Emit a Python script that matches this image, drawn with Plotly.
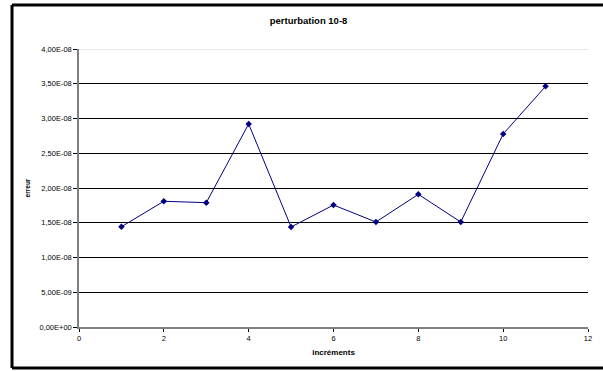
import plotly.graph_objects as go

# increments and error values
increments = [1, 2, 3, 4, 5, 6, 7, 8, 9, 10, 11]
erreur = [1.443e-8, 1.809e-8, 1.789e-8, 2.921e-8, 1.439e-8, 1.755e-8,
          1.511e-8, 1.909e-8, 1.511e-8, 2.777e-8, 3.463e-8]

y_ticks = [0, 5e-9, 1e-8, 1.5e-8, 2e-8, 2.5e-8, 3e-8, 3.5e-8, 4e-8]
y_labels = ['0,00E+00', '5,00E-09', '1,00E-08', '1,50E-08', '2,00E-08',
            '2,50E-08', '3,00E-08', '3,50E-08', '4,00E-08']

FONT = 'Liberation Sans, Arial, sans-serif'

# chart-area frame, in paper units (right side runs off the page)
left, right, top, bottom = -0.1316, 1.05, 1.158, -0.1475
frame = dict(color='black', width=3)

fig = go.Figure()
fig.add_trace(go.Scatter(
    x=increments,
    y=erreur,
    mode='lines+markers',
    line=dict(color='#000080', width=1),
    marker=dict(symbol='diamond', size=5, color='#000080'),
    showlegend=False,
))

fig.update_layout(
    template='none',
    width=603, height=371,
    margin=dict(l=79, r=15, t=49, b=44, autoexpand=False),
    paper_bgcolor='white',
    plot_bgcolor='white',
    font=dict(family=FONT, size=7.5, color='black'),
    title=dict(text='<b>perturbation 10-8</b>', x=0.451, xanchor='center',
               xref='paper', y=0.943, yanchor='middle',
               font=dict(size=9.5, color='black')),
    shapes=[
        dict(type='line', xref='paper', yref='paper', x0=left, x1=right,
             y0=top, y1=top, line=frame),
        dict(type='line', xref='paper', yref='paper', x0=left, x1=left,
             y0=bottom, y1=top, line=frame),
        dict(type='line', xref='paper', yref='paper', x0=left, x1=right,
             y0=bottom, y1=bottom, line=frame),
        # light top gridline as in the original
        dict(type='line', xref='paper', yref='y',
             x0=0, x1=1, y0=4e-8, y1=4e-8,
             line=dict(color='#d0d0d0', width=1.2)),
    ],
)

fig.update_xaxes(
    automargin=False,
    range=[0, 12], tickvals=[0, 2, 4, 6, 8, 10, 12],
    showgrid=False, zeroline=False,
    showline=True, linecolor='#808080', linewidth=1.5,
    ticks='outside', ticklen=3, tickcolor='black',
    tickfont=dict(size=7.5, color='black'),
    title=dict(text='<b>incréments</b>', font=dict(size=8, color='black'), standoff=8),
)
fig.update_yaxes(
    automargin=False,
    range=[0, 4e-8], tickvals=y_ticks, ticktext=y_labels,
    showgrid=True, gridcolor='black', gridwidth=1,
    zeroline=False,
    showline=True, linecolor='#808080', linewidth=1.5,
    ticks='outside', ticklen=4, tickcolor='black',
    tickfont=dict(size=7.5, color='black'),
    title=dict(text='<b>erreur</b>', font=dict(size=6.5, color='black'), standoff=8),
)

# drop the default body margin so the figure sits at the window corner
fig.write_html('out.html', config={'displayModeBar': False},
               post_script="document.body.style.margin='0';")
